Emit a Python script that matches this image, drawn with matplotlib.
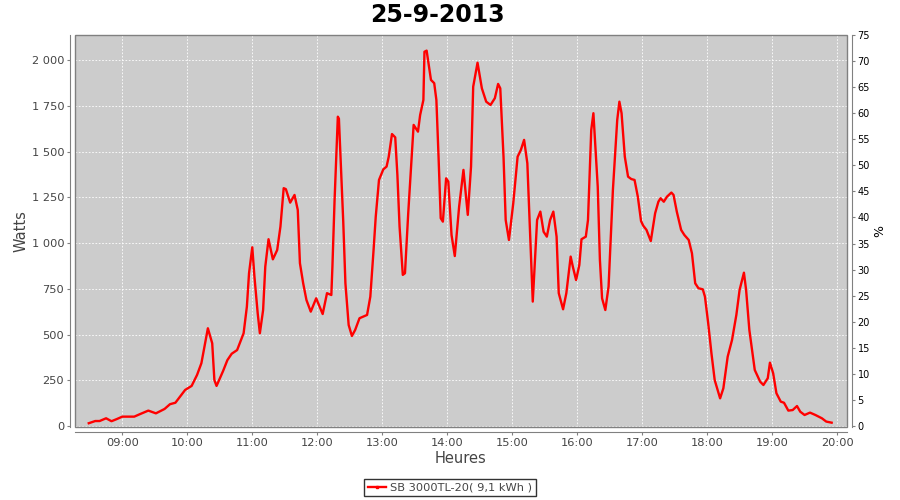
import matplotlib

matplotlib.use("Agg")
import matplotlib.pyplot as plt
import matplotlib.dates as mdates
from matplotlib.patches import Rectangle
from matplotlib.ticker import FuncFormatter
from matplotlib.lines import Line2D
import pandas as pd

DAY = "2013-09-25"
TITLE = "25-9-2013"
SERIES_LABEL = "SB 3000TL-20( 9,1 kWh )"

times = [
    "08:29", "08:35", "08:39", "08:45", "08:50", "08:55", "09:00", "09:11", "09:16", "09:24",
    "09:31", "09:39", "09:44", "09:49", "09:58", "10:04", "10:09", "10:13", "10:19", "10:23",
    "10:25", "10:27", "10:33", "10:37", "10:41", "10:46", "10:52", "10:55", "10:57", "11:00",
    "11:02", "11:05", "11:07", "11:10", "11:12", "11:15", "11:19", "11:23", "11:26", "11:29",
    "11:31", "11:35", "11:39", "11:42", "11:44", "11:47", "11:50", "11:54", "11:59", "12:05",
    "12:09", "12:13", "12:14", "12:16", "12:19", "12:20", "12:24", "12:26", "12:29", "12:32",
    "12:35", "12:39", "12:46", "12:49", "12:52", "12:54", "12:57", "13:01", "13:04", "13:06",
    "13:09", "13:12", "13:14", "13:16", "13:19", "13:21", "13:24", "13:29", "13:33", "13:35",
    "13:38", "13:39", "13:41", "13:45", "13:48", "13:50", "13:52", "13:54", "13:56", "13:59",
    "14:01", "14:04", "14:07", "14:11", "14:15", "14:19", "14:22", "14:24", "14:28", "14:32",
    "14:36", "14:40", "14:44", "14:47", "14:49", "14:52", "14:54", "14:57", "15:01", "15:05",
    "15:08", "15:11", "15:14", "15:17", "15:19", "15:23", "15:26", "15:29", "15:32", "15:35",
    "15:38", "15:41", "15:43", "15:47", "15:50", "15:54", "15:56", "15:59", "16:02", "16:04",
    "16:08", "16:10", "16:13", "16:15", "16:19", "16:21", "16:23", "16:26", "16:29", "16:33",
    "16:37", "16:39", "16:41", "16:44", "16:47", "16:50", "16:53", "16:56", "16:59", "17:01",
    "17:04", "17:08", "17:12", "17:15", "17:17", "17:20", "17:23", "17:27", "17:29", "17:32",
    "17:36", "17:39", "17:43", "17:46", "17:49", "17:52", "17:56", "17:58", "18:01", "18:04",
    "18:07", "18:12", "18:15", "18:19", "18:23", "18:27", "18:30", "18:34", "18:36", "18:39",
    "18:44", "18:49", "18:52", "18:56", "18:58", "19:01", "19:04", "19:08", "19:11", "19:15",
    "19:19", "19:23", "19:26", "19:30", "19:35", "19:40", "19:46", "19:50", "19:55",
]
watts = [
    15, 27, 27, 42, 26, 38, 51, 51, 64, 84,
    69, 93, 119, 127, 197, 219, 279, 343, 534, 452,
    251, 219, 300, 360, 395, 415, 507, 652, 835, 977,
    816, 616, 507, 634, 871, 1021, 911, 962, 1090, 1300,
    1295, 1221, 1263, 1181, 890, 780, 689, 625, 698, 612,
    726, 716, 871, 1236, 1691, 1680, 1117, 780, 552, 492,
    525, 589, 607, 707, 962, 1144, 1345, 1403, 1418, 1472,
    1596, 1578, 1372, 1090, 826, 835, 1163, 1646, 1609, 1700,
    1782, 2046, 2052, 1892, 1874, 1782, 1472, 1136, 1117, 1354,
    1336, 1044, 929, 1199, 1400, 1154, 1418, 1855, 1986, 1846,
    1773, 1755, 1792, 1870, 1846, 1472, 1126, 1017, 1218, 1472,
    1509, 1564, 1436, 980, 680, 1126, 1172, 1062, 1035, 1126,
    1172, 1035, 726, 638, 726, 926, 871, 798, 880, 1021,
    1035, 1126, 1618, 1710, 1308, 908, 698, 634, 762, 1290,
    1673, 1773, 1710, 1472, 1363, 1350, 1345, 1254, 1120, 1095,
    1072, 1011, 1163, 1226, 1245, 1226, 1254, 1276, 1263, 1172,
    1072, 1044, 1017, 944, 780, 753, 747, 707, 562, 397,
    251, 151, 206, 379, 470, 607, 744, 838, 744, 525,
    306, 242, 224, 261, 346, 288, 179, 133, 127, 84,
    87, 109, 78, 60, 73, 60, 42, 24, 18,
]
hour_ticks = ["%02d:00" % h for h in range(9, 21)]
watt_ticks = [0, 250, 500, 750, 1000, 1250, 1500, 1750, 2000]
percent_ticks = list(range(0, 80, 5))

W_PER_PERCENT = 28.5
W_MAX = 75 * W_PER_PERCENT
W_MIN = -4.0


def thousands(value, _pos):
    return "{:,.0f}".format(value).replace(",", " ")


def main():
    stamps = pd.to_datetime([DAY + " " + t for t in times])

    fig = plt.figure(figsize=(9, 5), dpi=100)
    ax = fig.add_axes([0.0837, 0.1466, 0.8569, 0.7834])
    ax.set_facecolor("#cccccc")

    ax.plot(stamps, watts, color="#ff0000", linewidth=1.7, solid_joinstyle="round")

    ax.set_xlim(pd.Timestamp(DAY + " 08:16:36"), pd.Timestamp(DAY + " 20:08:45"))
    ax.set_ylim(W_MIN, W_MAX)
    ax.set_xticks(pd.to_datetime([DAY + " " + t for t in hour_ticks]))
    ax.xaxis.set_major_formatter(mdates.DateFormatter("%H:%M"))
    ax.set_yticks(watt_ticks)
    ax.yaxis.set_major_formatter(FuncFormatter(thousands))

    ax.grid(True, color="white", linestyle=(0, (2, 2)), linewidth=0.6)
    ax.set_axisbelow(True)

    for name in ("top", "right"):
        ax.spines[name].set_visible(False)
    for name in ("left", "bottom"):
        ax.spines[name].set_position(("outward", 4))
        ax.spines[name].set_color("#808080")
    ax.tick_params(direction="out", length=2.5, width=0.8, color="#808080",
                   labelcolor="#444444", labelsize=8.2, pad=1.5)

    ax.add_patch(Rectangle((0, 0), 1, 1, transform=ax.transAxes, fill=False,
                           edgecolor="#808080", linewidth=1.0, clip_on=False, zorder=5))

    ax2 = ax.twinx()
    ax2.set_ylim(W_MIN / W_PER_PERCENT, 75)
    ax2.set_yticks(percent_ticks)
    for name in ("top", "left", "bottom"):
        ax2.spines[name].set_visible(False)
    ax2.spines["right"].set_position(("outward", 4))
    ax2.spines["right"].set_color("#808080")
    ax2.tick_params(direction="out", length=2.5, width=0.8, color="#808080",
                    labelcolor="black", labelsize=7, pad=1.5)

    fig.text(0.486, 0.971, TITLE, fontsize=17, fontweight="bold", ha="center", va="center")
    ax.set_xlabel("Heures", fontsize=10.5, color="#444444", labelpad=2)
    ax.set_ylabel("Watts", fontsize=10.5, color="#444444", labelpad=2)
    ax2.set_ylabel("%", fontsize=9, color="black", labelpad=2)

    handle = Line2D([], [], color="#ff0000", linewidth=1.7, marker="s", markersize=2)
    legend = fig.legend([handle], [SERIES_LABEL], loc="center", bbox_to_anchor=(0.5, 0.025),
                        frameon=True, fancybox=False, fontsize=8.2, handlelength=1.6,
                        handletextpad=0.3, borderpad=0.35, borderaxespad=0.0,
                        labelcolor="#444444")
    legend.get_frame().set_edgecolor("black")
    legend.get_frame().set_linewidth(1.0)

    fig.savefig("out.png", dpi=100)
    plt.close(fig)


if __name__ == "__main__":
    main()
